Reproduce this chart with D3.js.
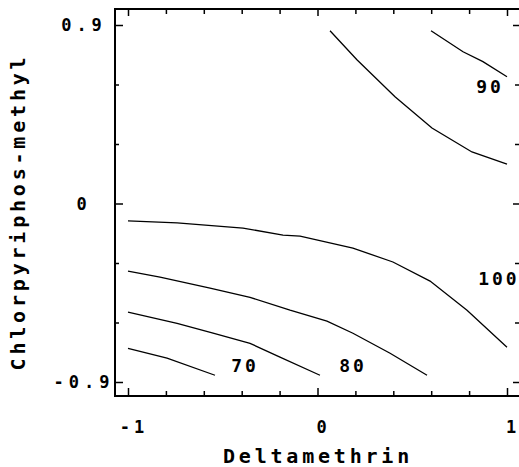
<!DOCTYPE html>
<html>
<head>
<meta charset="utf-8">
<script src="https://cdn.jsdelivr.net/npm/d3@7"></script>
<style>
  body { margin: 0; background: #fff; }
  svg { display: block; }
  .lbl { font-family: "DejaVu Sans Mono", monospace; font-weight: bold; fill: #000; }
  .domain { display: none; }
</style>
</head>
<body>
<div id="chart"></div>
<script>
// Contour lines (Deltamethrin, Chlorpyriphos-methyl)
const contourA = [[0.066, 0.871], [0.208, 0.725], [0.409, 0.538], [0.604, 0.381], [0.815, 0.260], [1.0, 0.199]];
const contourB = [[0.599, 0.871], [0.768, 0.765], [0.873, 0.715], [1.0, 0.639]];
const contourC = [[-1, -0.088], [-0.741, -0.098], [-0.393, -0.124], [-0.182, -0.159], [-0.092, -0.164],
                  [0.187, -0.225], [0.398, -0.295], [0.594, -0.391], [0.789, -0.538], [1.0, -0.725]];
const contourD = [[-1, -0.341], [-0.831, -0.371], [-0.567, -0.427], [-0.356, -0.473], [-0.145, -0.538],
                  [0.050, -0.593], [0.187, -0.654], [0.383, -0.755], [0.578, -0.866]];
const contourE = [[-1, -0.548], [-0.741, -0.604], [-0.551, -0.654], [-0.356, -0.705], [-0.198, -0.775], [0.013, -0.866]];
const contourF = [[-1, -0.730], [-0.794, -0.780], [-0.541, -0.866]];

// Contour level labels
const levelLabels = ["70", "80", "90", "100"];
const levelPos = [[-0.393, -0.816], [0.177, -0.816], [0.900, 0.593], [0.947, -0.376]];

// Ticks
const xMajor = [-1, 0, 1];
const xMinor = [-0.8, -0.6, -0.4, -0.2, 0.2, 0.4, 0.6, 0.8];
const yMajor = [-0.9, 0, 0.9];
const yMinor = [-0.6, -0.3, 0.3, 0.6];
const xTickLabels = ["-1", "0", "1"];
const yTickLabels = ["-0.9", "0", "0.9"];

const W = 519, H = 467;

const svg = d3.select("#chart").append("svg")
    .attr("width", W)
    .attr("height", H);

const x = d3.scaleLinear().domain([-1, 1]).range([128, 507]);
const y = d3.scaleLinear().domain([-0.9, 0.9]).range([382, 25]);

// plot frame (right edge falls just past the window)
const fl = x(-1) - 13, fr = x(1) + 16, ft = y(0.9) - 16, fb = y(-0.9) + 14;

svg.append("rect")
    .attr("x", fl).attr("y", ft)
    .attr("width", fr - fl).attr("height", fb - ft)
    .attr("fill", "none")
    .attr("stroke", "#000")
    .attr("stroke-width", 2);

// inward ticks on all four sides
function addAxis(axis, tx, ty) {
  svg.append("g")
      .attr("transform", `translate(${tx},${ty})`)
      .call(axis)
      .call(g => g.selectAll("line").attr("stroke", "#000").attr("stroke-width", 1.5))
      .call(g => g.selectAll("text").remove());
}

addAxis(d3.axisBottom(x).tickValues(xMajor).tickSize(-8), 0, fb);
addAxis(d3.axisBottom(x).tickValues(xMinor).tickSize(-5), 0, fb);
addAxis(d3.axisTop(x).tickValues(xMajor).tickSize(-7), 0, ft);
addAxis(d3.axisTop(x).tickValues(xMinor).tickSize(-5), 0, ft);
addAxis(d3.axisLeft(y).tickValues(yMajor).tickSize(-8), fl, 0);
addAxis(d3.axisLeft(y).tickValues(yMinor).tickSize(-4), fl, 0);
addAxis(d3.axisRight(y).tickValues(yMajor).tickSize(-10), fr, 0);
addAxis(d3.axisRight(y).tickValues(yMinor).tickSize(-8), fr, 0);

// tick labels
svg.selectAll(".xtl")
    .data(xMajor)
  .enter().append("text")
    .attr("class", "lbl xtl")
    .attr("x", d => x(d) + 6)
    .attr("y", 433)
    .attr("text-anchor", "middle")
    .style("font-size", "17px")
    .style("letter-spacing", "4px")
    .text((d, i) => xTickLabels[i]);

svg.selectAll(".ytl")
    .data(yMajor)
  .enter().append("text")
    .attr("class", "lbl ytl")
    .attr("x", 84)
    .attr("y", d => y(d) + 6)
    .attr("text-anchor", "middle")
    .style("font-size", "17px")
    .style("letter-spacing", "5px")
    .text((d, i) => yTickLabels[i]);

// contour lines
const line = d3.line()
    .x(d => x(d[0]))
    .y(d => y(d[1]));

[contourA, contourB, contourC, contourD, contourE, contourF].forEach(c => {
  svg.append("path")
      .datum(c)
      .attr("d", line)
      .attr("fill", "none")
      .attr("stroke", "#000")
      .attr("stroke-width", 1.3);
});

// contour level labels
svg.selectAll(".lev")
    .data(levelLabels)
  .enter().append("text")
    .attr("class", "lbl lev")
    .attr("x", (d, i) => x(levelPos[i][0]) + 2)
    .attr("y", (d, i) => y(levelPos[i][1]) + 7)
    .attr("text-anchor", "middle")
    .style("font-size", "18px")
    .style("letter-spacing", "3px")
    .text(d => d);

// axis titles
svg.append("text")
    .attr("class", "lbl")
    .attr("x", 318)
    .attr("y", 463)
    .attr("text-anchor", "middle")
    .style("font-size", "20px")
    .style("letter-spacing", "3.8px")
    .text("Deltamethrin");

svg.append("text")
    .attr("class", "lbl")
    .attr("transform", "rotate(-90)")
    .attr("x", -212)
    .attr("y", 25)
    .attr("text-anchor", "middle")
    .style("font-size", "20px")
    .style("letter-spacing", "3.8px")
    .text("Chlorpyriphos-methyl");
</script>
</body>
</html>
